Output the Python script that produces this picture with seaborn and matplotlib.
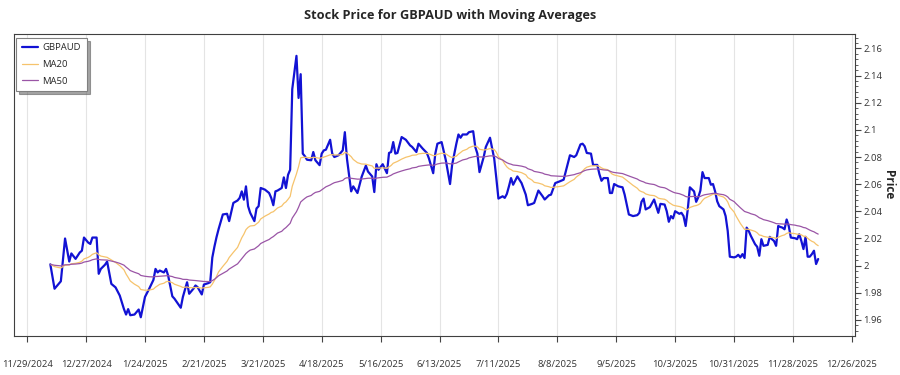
import matplotlib
matplotlib.use("Agg")
import matplotlib.pyplot as plt
from matplotlib.ticker import MultipleLocator, AutoMinorLocator
import seaborn as sns
import pandas as pd

# GBPAUD daily close
dates = [
    "2024-12-10", "2024-12-12", "2024-12-15", "2024-12-17", "2024-12-19", "2024-12-20", "2024-12-22",
    "2024-12-24", "2024-12-25", "2024-12-26", "2024-12-28", "2024-12-29", "2024-12-30",
    "2025-01-01", "2025-01-02", "2025-01-03", "2025-01-05", "2025-01-06", "2025-01-08", "2025-01-10",
    "2025-01-12", "2025-01-14", "2025-01-15", "2025-01-16", "2025-01-17", "2025-01-19", "2025-01-21",
    "2025-01-22", "2025-01-24", "2025-01-26", "2025-01-28", "2025-01-29", "2025-01-30", "2025-01-31",
    "2025-02-02", "2025-02-03", "2025-02-04", "2025-02-06", "2025-02-07", "2025-02-10", "2025-02-11",
    "2025-02-13", "2025-02-14", "2025-02-16", "2025-02-17", "2025-02-18", "2025-02-20", "2025-02-21",
    "2025-02-23", "2025-02-24", "2025-02-25", "2025-02-26", "2025-02-27", "2025-02-28",
    "2025-03-02", "2025-03-04", "2025-03-05", "2025-03-07", "2025-03-09", "2025-03-10", "2025-03-11",
    "2025-03-12", "2025-03-13", "2025-03-14", "2025-03-15", "2025-03-17", "2025-03-18", "2025-03-19",
    "2025-03-20", "2025-03-22", "2025-03-24", "2025-03-25", "2025-03-26", "2025-03-27", "2025-03-28",
    "2025-03-30", "2025-03-31",
    "2025-04-01", "2025-04-02", "2025-04-03", "2025-04-04", "2025-04-06", "2025-04-07", "2025-04-08",
    "2025-04-09", "2025-04-10", "2025-04-11", "2025-04-13", "2025-04-14", "2025-04-15", "2025-04-17",
    "2025-04-18", "2025-04-19", "2025-04-20", "2025-04-22", "2025-04-23", "2025-04-24", "2025-04-26",
    "2025-04-28", "2025-04-29", "2025-04-30",
    "2025-05-02", "2025-05-03", "2025-05-05", "2025-05-07", "2025-05-09", "2025-05-10", "2025-05-12",
    "2025-05-13", "2025-05-14", "2025-05-15", "2025-05-17", "2025-05-19", "2025-05-20", "2025-05-21",
    "2025-05-22", "2025-05-23", "2025-05-24", "2025-05-26", "2025-05-28", "2025-05-30", "2025-05-31",
    "2025-06-02", "2025-06-03", "2025-06-05", "2025-06-07", "2025-06-08", "2025-06-10", "2025-06-11",
    "2025-06-12", "2025-06-14", "2025-06-16", "2025-06-18", "2025-06-19", "2025-06-21", "2025-06-22",
    "2025-06-23", "2025-06-24", "2025-06-26", "2025-06-27", "2025-06-29", "2025-06-30",
    "2025-07-01", "2025-07-02", "2025-07-04", "2025-07-05", "2025-07-07", "2025-07-09", "2025-07-10",
    "2025-07-11", "2025-07-13", "2025-07-14", "2025-07-15", "2025-07-16", "2025-07-17", "2025-07-18",
    "2025-07-20", "2025-07-22", "2025-07-24", "2025-07-25", "2025-07-27", "2025-07-28", "2025-07-30",
    "2025-08-01", "2025-08-02", "2025-08-04", "2025-08-05", "2025-08-07", "2025-08-09", "2025-08-11",
    "2025-08-12", "2025-08-14", "2025-08-16", "2025-08-17", "2025-08-19", "2025-08-20", "2025-08-21",
    "2025-08-22", "2025-08-24", "2025-08-25", "2025-08-27", "2025-08-28", "2025-08-29", "2025-08-30",
    "2025-09-01", "2025-09-02", "2025-09-03", "2025-09-04", "2025-09-06", "2025-09-08", "2025-09-09",
    "2025-09-11", "2025-09-13", "2025-09-15", "2025-09-16", "2025-09-17", "2025-09-18", "2025-09-19",
    "2025-09-21", "2025-09-23", "2025-09-24", "2025-09-25", "2025-09-26", "2025-09-28", "2025-09-29",
    "2025-09-30",
    "2025-10-01", "2025-10-02", "2025-10-03", "2025-10-05", "2025-10-06", "2025-10-07", "2025-10-08",
    "2025-10-09", "2025-10-10", "2025-10-12", "2025-10-13", "2025-10-14", "2025-10-15", "2025-10-16",
    "2025-10-17", "2025-10-19", "2025-10-20", "2025-10-21", "2025-10-22", "2025-10-23", "2025-10-24",
    "2025-10-26", "2025-10-27", "2025-10-28", "2025-10-29", "2025-10-31",
    "2025-11-01", "2025-11-02", "2025-11-03", "2025-11-04", "2025-11-05", "2025-11-06", "2025-11-07",
    "2025-11-08", "2025-11-10", "2025-11-11", "2025-11-12", "2025-11-13", "2025-11-14", "2025-11-16",
    "2025-11-17", "2025-11-18", "2025-11-19", "2025-11-20", "2025-11-21", "2025-11-22", "2025-11-23",
    "2025-11-24", "2025-11-25", "2025-11-26", "2025-11-27", "2025-11-29", "2025-11-30",
    "2025-12-01", "2025-12-02", "2025-12-03", "2025-12-04", "2025-12-05", "2025-12-06", "2025-12-07",
    "2025-12-08", "2025-12-09", "2025-12-10",
]
gbpaud = [
    2.001, 1.983, 1.9885, 2.020, 2.003, 2.009, 2.005,
    2.0097, 2.011, 2.0207, 2.017, 2.016, 2.0207,
    2.0207, 1.994, 1.9976, 2.0007, 2.003, 1.9866, 1.984,
    1.978, 1.968, 1.964, 1.968, 1.9635, 1.964, 1.9677,
    1.962, 1.977, 1.983, 1.9895, 1.9976, 1.995, 1.9964,
    1.995, 1.9976, 1.9927, 1.9774, 1.9757, 1.969, 1.9769,
    1.9878, 1.9793, 1.983, 1.9854, 1.9842, 1.9788, 1.9861,
    1.9871, 1.9878, 2.006, 2.014, 2.021, 2.027,
    2.0377, 2.0382, 2.0328, 2.0462, 2.048, 2.0499, 2.0547,
    2.0486, 2.0584, 2.0438, 2.0389, 2.0328, 2.0421, 2.0438,
    2.0572, 2.056, 2.0535, 2.0499, 2.0445, 2.0547, 2.0553,
    2.0572, 2.065,
    2.0572, 2.0669, 2.0706, 2.130, 2.1545, 2.1235, 2.141,
    2.0825, 2.0806, 2.078, 2.0776, 2.0837, 2.0776, 2.074,
    2.0825, 2.0849, 2.0854, 2.0927, 2.0825, 2.080, 2.0813,
    2.0849, 2.0983, 2.0788,
    2.0547, 2.0584, 2.0535, 2.0655, 2.0737, 2.0693, 2.0657,
    2.0542, 2.0747, 2.0706, 2.0747, 2.0681, 2.083, 2.0837,
    2.091, 2.0825, 2.083, 2.0947, 2.0927, 2.0886, 2.0874,
    2.0837, 2.0898, 2.0862, 2.083, 2.0788, 2.0681, 2.0825,
    2.0898, 2.091, 2.0776, 2.0601, 2.0744, 2.0898, 2.0966,
    2.0942, 2.0966, 2.0966, 2.0983, 2.099, 2.0874,
    2.0825, 2.0689, 2.080, 2.0874, 2.0942, 2.0788, 2.0645,
    2.0494, 2.0511, 2.0499, 2.0528, 2.0584, 2.0645, 2.0596,
    2.0657, 2.0608, 2.0523, 2.0445, 2.0455, 2.0462, 2.0553,
    2.0511, 2.0487, 2.0518, 2.0523, 2.0608, 2.062, 2.0633,
    2.0693, 2.0813, 2.080, 2.0813, 2.0893, 2.0898, 2.0879,
    2.083, 2.0825, 2.0742, 2.0742, 2.0674, 2.0625, 2.0645,
    2.0645, 2.0535, 2.0535, 2.0601, 2.0584, 2.0577, 2.0523,
    2.0377, 2.0365, 2.0372, 2.0389, 2.047, 2.0494, 2.0414,
    2.0431, 2.0487, 2.0438, 2.0389, 2.0455, 2.045, 2.0401,
    2.0323,
    2.0365, 2.0348, 2.0401, 2.0382, 2.0389, 2.0365, 2.0292,
    2.0414, 2.0577, 2.0547, 2.047, 2.0504, 2.0553, 2.0689,
    2.0645, 2.0645, 2.0596, 2.0601, 2.0547, 2.0474, 2.0438,
    2.0414, 2.0365, 2.0255, 2.0066, 2.0061,
    2.0066, 2.008, 2.0061, 2.0085, 2.0056, 2.028, 2.0255,
    2.0219, 2.0158, 2.0139, 2.0073, 2.0195, 2.0146, 2.0153,
    2.0212, 2.0195, 2.0182, 2.0146, 2.0292, 2.0285, 2.028,
    2.0268, 2.034, 2.0292, 2.0207, 2.0202, 2.0195,
    2.0231, 2.0182, 2.0122, 2.0212, 2.0066, 2.0066, 2.0085,
    2.011, 2.0012, 2.0049,
]

tick_labels = ["11/29/2024", "12/27/2024", "1/24/2025", "2/21/2025", "3/21/2025", "4/18/2025",
               "5/16/2025", "6/13/2025", "7/11/2025", "8/8/2025", "9/5/2025", "10/3/2025",
               "10/31/2025", "11/28/2025", "12/26/2025"]

df = pd.DataFrame({"Date": pd.to_datetime(dates), "GBPAUD": gbpaud})
# exponential moving averages (they start at the first close, like the reference)
df["MA20"] = df["GBPAUD"].ewm(span=20, adjust=False).mean()
df["MA50"] = df["GBPAUD"].ewm(span=50, adjust=False).mean()

sns.set_style("white")
plt.rcParams["font.family"] = ["Open Sans", "DejaVu Sans"]

fig, ax = plt.subplots(figsize=(9, 3.75), dpi=100)
fig.subplots_adjust(left=0.0156, right=0.95, top=0.909, bottom=0.104)

sns.lineplot(data=df, x="Date", y="GBPAUD", ax=ax, color="#1212d4", linewidth=1.6, label="GBPAUD")
sns.lineplot(data=df, x="Date", y="MA20", ax=ax, color="#f6c36c", linewidth=0.9, label="MA20")
sns.lineplot(data=df, x="Date", y="MA50", ax=ax, color="#9a55a6", linewidth=0.9, label="MA50")

# x axis
ax.set_xticks(pd.to_datetime(tick_labels, format="%m/%d/%Y"))
ax.set_xticklabels(tick_labels, fontsize=6.8, color="#333333")
ax.set_xlim(pd.Timestamp("2024-11-22 18:00"), pd.Timestamp("2025-12-27 12:00"))
ax.tick_params(axis="x", direction="out", length=4, width=0.8, pad=13, bottom=True, color="#444444")
ax.set_xlabel("")

# y axis on the right
ax.yaxis.tick_right()
ax.yaxis.set_label_position("right")
ax.set_ylim(1.9482, 2.1705)
ax.yaxis.set_major_locator(MultipleLocator(0.02))
ax.yaxis.set_minor_locator(AutoMinorLocator(5))
ax.set_yticks(ax.get_yticks())
ax.set_yticklabels([f"{v:g}" for v in ax.get_yticks()], fontsize=6.8, color="#333333")
ax.set_ylim(1.9482, 2.1705)
ax.tick_params(axis="y", which="major", direction="out", length=4, width=0.8, pad=2, right=True, color="#444444")
ax.tick_params(axis="y", which="minor", direction="out", length=2, width=0.6, right=True, color="#444444")
ax.set_ylabel("Price", fontsize=8.5, fontweight="bold", rotation=270, labelpad=9)

ax.grid(axis="x", color="#e4e4e4", linewidth=0.8)
ax.grid(axis="y", visible=False)
for s in ax.spines.values():
    s.set_visible(True)
    s.set_color("#404040")
    s.set_linewidth(0.8)

# title is centred on the whole figure in the reference
fig.suptitle("Stock Price for GBPAUD with Moving Averages", x=0.5, y=0.96, va="center",
             fontsize=9.2, fontweight="bold")

leg = ax.legend(loc="upper left", fontsize=6.8, frameon=True, fancybox=False, shadow=True,
                edgecolor="#808080", borderpad=0.6, handlelength=1.7, handletextpad=0.5,
                labelspacing=0.8, borderaxespad=0, bbox_to_anchor=(0.0025, 0.988))
leg.get_frame().set_linewidth(0.8)

plt.savefig("out.png", dpi=100)
